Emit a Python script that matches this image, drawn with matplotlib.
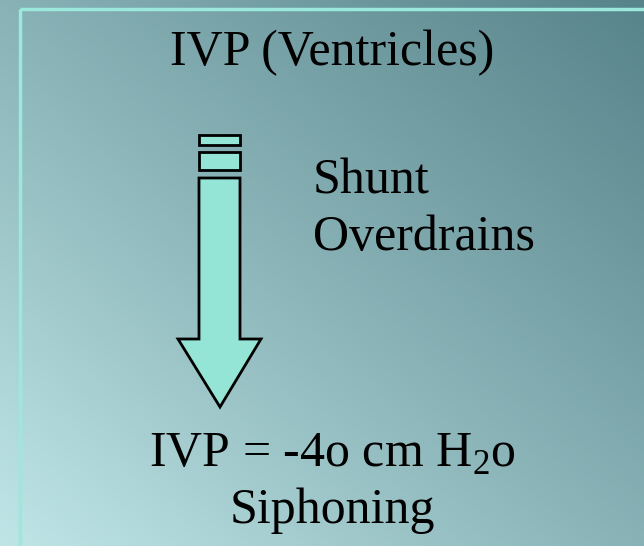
import numpy as np
import matplotlib.pyplot as plt
from matplotlib.patches import Polygon, Rectangle
from matplotlib.colors import LinearSegmentedColormap

W, H = 644, 546

title = "IVP (Ventricles)"
side_label = ["Shunt", "Overdrains"]
bottom_label = [r"IVP = -4o cm H$_{\mathrm{2}}$o", "Siphoning"]

fill_col = '#95e5d7'
frame_col = '#9be8dc'
font = 'Liberation Serif'

plt.rcParams['mathtext.fontset'] = 'custom'
plt.rcParams['mathtext.rm'] = font

fig = plt.figure(figsize=(W / 100, H / 100), dpi=100)
ax = fig.add_axes([0, 0, 1, 1])
ax.set_xlim(0, W)
ax.set_ylim(H, 0)
ax.axis('off')

# diagonal gradient background: light at bottom-left, dark at top-right
xx, yy = np.meshgrid(np.linspace(0, 1, 200), np.linspace(0, 1, 200))
t = (xx + (1 - yy)) / 2
cmap = LinearSegmentedColormap.from_list('bg', ['#bfe5e7', '#88b2b6', '#57838a'])
ax.imshow(t, extent=[0, W, H, 0], cmap=cmap, aspect='auto', zorder=0)

# frame
ax.add_patch(Rectangle((20, 9), W, H, fill=False, edgecolor=frame_col, lw=2.5, zorder=1))

# arrow pieces
x0, x1 = 199, 240
for y0, y1 in [(135, 145), (152, 170)]:
    ax.add_patch(Rectangle((x0, y0), x1 - x0, y1 - y0, facecolor=fill_col,
                           edgecolor='black', lw=2, zorder=2))
arrow = [(x0, 178), (x1, 178), (x1, 339), (261, 339), (220, 407),
         (178, 339), (x0, 339)]
ax.add_patch(Polygon(arrow, closed=True, facecolor=fill_col, edgecolor='black',
                     lw=2, joinstyle='miter', zorder=2))

fs = 36
ax.text(332, 65, title, ha='center', va='baseline', fontsize=fs, family=font)
ax.text(313, 193, side_label[0], ha='left', va='baseline', fontsize=fs, family=font)
ax.text(313, 250, side_label[1], ha='left', va='baseline', fontsize=fs, family=font)
ax.text(332, 467, bottom_label[0], ha='center', va='baseline', fontsize=fs, family=font)
ax.text(332, 523, bottom_label[1], ha='center', va='baseline', fontsize=fs, family=font)

fig.savefig('out.png', dpi=100)
